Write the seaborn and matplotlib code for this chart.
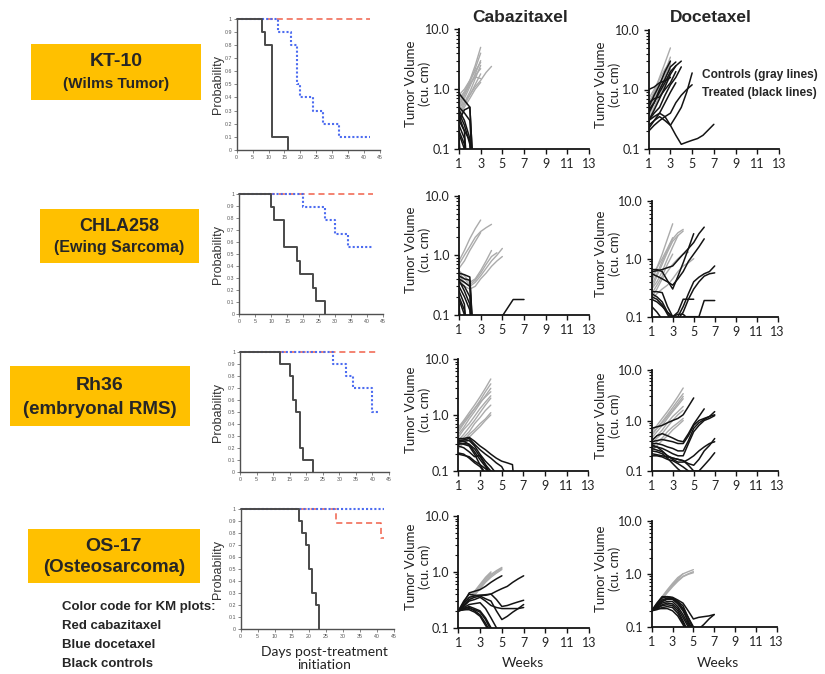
"""Cabazitaxel vs docetaxel: KM curves and tumor volume panels for four xenograft models."""

import numpy as np
import pandas as pd
import matplotlib
matplotlib.use("Agg")
import matplotlib.pyplot as plt
import seaborn as sns
from matplotlib.patches import Rectangle
from matplotlib.ticker import LogLocator, NullFormatter, FixedLocator

W, H = 825, 674

# ---------------- Kaplan-Meier data (days, probability) ----------------
kt10_ctrl_t = [0, 8, 9, 11, 16]
kt10_ctrl_p = [1, 0.9, 0.8, 0.1, 0]
kt10_cab_t = [0, 42]
kt10_cab_p = [1, 1]
kt10_doc_t = [0, 13, 17, 19, 20, 24, 27, 32, 42]
kt10_doc_p = [1, 0.9, 0.8, 0.5, 0.4, 0.3, 0.2, 0.1, 0.1]

chla_ctrl_t = [0, 10, 11, 14, 18, 19, 23, 24, 27]
chla_ctrl_p = [1, 0.889, 0.778, 0.556, 0.444, 0.333, 0.222, 0.111, 0]
chla_cab_t = [0, 42]
chla_cab_p = [1, 1]
chla_doc_t = [0, 20, 27, 30, 34, 42]
chla_doc_p = [1, 0.889, 0.778, 0.667, 0.556, 0.556]

rh36_ctrl_t = [0, 12, 15, 16, 17, 18, 19, 22]
rh36_ctrl_p = [1, 0.9, 0.8, 0.6, 0.5, 0.2, 0.1, 0]
rh36_cab_t = [0, 42]
rh36_cab_p = [1, 1]
rh36_doc_t = [0, 28, 32, 34, 40, 42]
rh36_doc_p = [1, 0.9, 0.8, 0.7, 0.5, 0.5]

os17_ctrl_t = [0, 17, 18, 19, 20, 21, 22, 23]
os17_ctrl_p = [1, 0.9, 0.8, 0.7, 0.5, 0.3, 0.2, 0]
os17_cab_t = [0, 28, 41, 42]
os17_cab_p = [1, 0.889, 0.76, 0.76]
os17_doc_t = [0, 42]
os17_doc_p = [1, 1]

# ---------------- tumor volume data (cu. cm), one list per mouse ----------------
tv_weeks = [1, 1.5, 2, 2.5, 3, 3.5, 4, 4.5, 5, 5.5, 6, 6.5, 7]

kt10_cab_ctrl = [
    [0.6, 0.9, 1.4, 2.5, 5.0], [0.5, 0.8, 1.3, 2.2, 4.0], [0.45, 0.7, 1.1, 1.8, 3.0],
    [0.4, 0.6, 0.9, 1.5, 2.5], [0.55, 0.8, 1.2, 1.7, 2.2], [0.35, 0.55, 0.8, 1.2, 1.8],
    [0.7, 0.9, 1.2, 1.6, 1.5], [0.3, 0.5, 0.7, 1.0, 1.3], [0.5, 0.6, 0.8, 1.1, 1.4, 1.9, 2.4],
    [0.8, 1.0, 1.4, 2.0, 2.8],
]
kt10_cab_trt = [
    [0.85, 0.65, 0.5, 0.01], [0.5, 0.4, 0.3, 0.01], [0.45, 0.3, 0.15, 0.01],
    [0.4, 0.25, 0.12, 0.01], [0.3, 0.2, 0.01], [0.25, 0.15, 0.01], [0.2, 0.12, 0.01],
    [0.18, 0.1, 0.01], [0.15, 0.01], [0.12, 0.01], [0.3, 0.45, 0.5, 0.01],
    [0.35, 0.2, 0.14, 0.01],
]
kt10_doc_ctrl = [
    [0.5, 0.9, 1.6, 2.8, 5.0], [0.4, 0.7, 1.2, 2.0, 3.5], [0.6, 0.9, 1.3, 1.9, 2.6],
    [0.35, 0.6, 1.0, 1.7, 2.8], [0.45, 0.7, 1.0, 1.4, 1.9], [0.3, 0.5, 0.8, 1.2, 1.6],
    [0.55, 0.8, 1.1, 1.6, 2.2], [0.7, 1.0, 1.5, 2.2, 3.0],
]
kt10_doc_trt = [
    [0.5, 0.8, 1.2, 2.0, 3.0], [0.4, 0.6, 1.0, 1.5, 2.4, 2.9],
    [0.3, 0.45, 0.7, 1.1, 1.8, 2.5, 3.0],
    [0.25, 0.3, 0.35, 0.3, 0.25, 0.35, 0.5, 0.9, 1.9],
    [0.2, 0.25, 0.3, 0.35, 0.4, 0.6, 0.8, 1.0, 1.2],
    [0.6, 0.7, 0.75, 1.0, 1.3, 2.0],
    [0.3, 0.35, 0.4, 0.35, 0.25, 0.17, 0.12, 0.13, 0.14, 0.15, 0.17, 0.21, 0.26],
    [0.22, 0.3, 0.4, 0.6, 0.9, 1.3], [0.3, 0.4, 0.5, 0.8, 1.2, 1.6, 2.4],
    [1.0, 1.1, 1.3, 1.4, 1.6], [0.45, 0.6, 0.9, 1.3, 2.0, 2.5],
]

chla_cab_ctrl = [
    [0.8, 1.2, 1.9, 2.8, 3.9], [0.7, 1.0, 1.4, 2.0, 2.5, 2.9, 3.3], [0.6, 0.8, 1.2, 1.7, 2.4],
    [0.55, 0.45, 0.35, 0.4, 0.55, 0.8, 1.2],
    [0.45, 0.35, 0.3, 0.35, 0.45, 0.6, 0.8, 1.0, 1.3],
    [0.4, 0.3, 0.27, 0.3, 0.4, 0.5, 0.65, 0.8, 0.95],
    [0.5, 0.4, 0.32, 0.38, 0.5, 0.7, 0.95, 1.1],
]
chla_cab_trt = [
    [0.5, 0.47, 0.43, 0.01], [0.45, 0.4, 0.38, 0.01], [0.4, 0.35, 0.3, 0.01],
    [0.35, 0.3, 0.2, 0.01], [0.3, 0.2, 0.12, 0.01], [0.25, 0.15, 0.01], [0.2, 0.12, 0.01],
    [0.18, 0.1, 0.01], [0.15, 0.01], [0.12, 0.01], [0.38, 0.25, 0.15, 0.01],
    [None, None, None, None, None, None, None, None, 0.095, None, 0.18, None, 0.18],
]
chla_doc_ctrl = [
    [0.4, 0.7, 1.2, 2.2, 4.0], [0.35, 0.55, 0.9, 1.4, 2.2, 2.8, 3.2],
    [0.3, 0.5, 0.8, 1.3, 2.0, 2.5, 3.0], [0.25, 0.35, 0.5, 0.8, 1.2],
    [0.22, 0.3, 0.45, 0.6, 0.8, 1.0, 1.2, 1.3],
    [0.2, 0.25, 0.3, 0.35, 0.45, 0.6, 0.75, 0.85, 1.0],
    [0.3, 0.4, 0.6, 1.0, 1.6, 2.5], [0.5, 0.7, 1.0, 1.5, 2.3],
]
chla_doc_trt = [
    [0.6, 0.62, 0.65, 0.7, 0.75, 0.95, 1.2, 1.5, 1.9, 2.7, 3.5],
    [0.65, 0.65, 0.6, 0.42, 0.3, 0.5, 0.85, 1.5, 2.7],
    [0.55, 0.5, 0.45, 0.4, 0.35, 0.45, 0.6, 0.9, 1.2, 1.6, 2.2],
    [0.27, 0.27, 0.26, 0.15, 0.1, 0.12, 0.2, 0.2, 0.2],
    [0.2, 0.18, 0.15, 0.12, 0.09, 0.1, 0.15, 0.25, 0.4, 0.48, 0.55, 0.6, 0.75],
    [0.22, 0.2, 0.16, 0.11, 0.08, 0.09, 0.12, 0.2, 0.3, 0.4, 0.5, 0.55, 0.57],
    [0.15, 0.12, 0.09, 0.07, 0.06, 0.07, 0.1, 0.1, 0.1, 0.1, 0.19, 0.19, 0.19],
    [0.25, 0.22, 0.18, 0.12, 0.1, 0.11, 0.11, 0.09, 0.07],
]

rh36_cab_ctrl = [
    [0.6, 0.8, 1.1, 1.5, 2.1, 3.0, 4.4], [0.5, 0.7, 0.95, 1.3, 1.8, 2.6, 3.6],
    [0.45, 0.6, 0.85, 1.15, 1.6, 2.2, 3.0], [0.4, 0.55, 0.7, 0.95, 1.3, 1.7, 2.2],
    [0.35, 0.45, 0.6, 0.8, 1.1, 1.5, 2.0], [0.3, 0.4, 0.5, 0.7, 0.9, 1.2, 1.5],
    [0.28, 0.35, 0.45, 0.55, 0.7, 0.85, 1.1], [0.25, 0.32, 0.4, 0.5, 0.62, 0.8, 1.0],
    [0.55, 0.75, 1.0, 1.3, 1.7, 2.1, 2.6],
]
rh36_cab_trt = [
    [0.38, 0.38, 0.4, 0.34, 0.28, 0.24, 0.2, 0.17, 0.15, 0.14, 0.13, 0.01],
    [0.35, 0.36, 0.38, 0.3, 0.24, 0.2, 0.17, 0.14, 0.12, 0.08],
    [0.33, 0.34, 0.35, 0.28, 0.2, 0.15, 0.12, 0.09],
    [0.3, 0.31, 0.3, 0.22, 0.16, 0.12, 0.09], [0.32, 0.3, 0.28, 0.2, 0.13, 0.09],
    [0.2, 0.19, 0.18, 0.15, 0.13, 0.11, 0.09], [0.21, 0.2, 0.17, 0.14, 0.12, 0.09],
    [0.28, 0.26, 0.22, 0.18, 0.19, 0.13, 0.08],
    [0.36, 0.34, 0.3, 0.25, 0.18, 0.13, 0.1, 0.08],
]
rh36_doc_ctrl = [
    [0.6, 0.8, 1.1, 1.5, 2.1, 3.0, 4.4], [0.5, 0.7, 0.95, 1.3, 1.8, 2.5, 3.4],
    [0.45, 0.6, 0.8, 1.1, 1.5, 2.0, 2.7], [0.4, 0.5, 0.65, 0.9, 1.2, 1.5, 1.9],
    [0.35, 0.45, 0.55, 0.75, 1.0, 1.3, 1.6], [0.3, 0.38, 0.45, 0.6, 0.75, 0.9, 1.1],
    [0.25, 0.32, 0.4, 0.5, 0.65, 0.8, 1.0], [0.55, 0.7, 0.9, 1.2, 1.6, 2.2, 3.0],
]
rh36_doc_trt = [
    [0.7, 0.75, 0.8, 0.9, 1.0, 1.1, 1.3, 1.9, 2.8],
    [0.4, 0.5, 0.55, 0.5, 0.45, 0.4, 0.38, 0.55, 0.85, 1.2, 1.7],
    [0.38, 0.4, 0.42, 0.4, 0.38, 0.35, 0.35, 0.5, 0.8, 1.0, 1.1, 1.2, 1.3],
    [0.35, 0.35, 0.33, 0.3, 0.28, 0.25, 0.25, 0.4, 0.7, 0.9, 1.05, 1.2, 1.5],
    [0.3, 0.3, 0.28, 0.25, 0.22, 0.2, 0.2, 0.35, 0.6, 0.8, 1.0, 1.1, 1.25],
    [0.28, 0.26, 0.24, 0.2, 0.18, 0.17, 0.16, 0.14, 0.13, 0.17, 0.25, 0.32, 0.44],
    [0.22, 0.21, 0.2, 0.19, 0.18, 0.17, 0.16, 0.13, 0.1, 0.1, 0.13, 0.17, 0.23],
    [0.2, 0.2, 0.19, 0.17, 0.16, 0.14, 0.12, 0.1, 0.08],
    [0.33, 0.3, 0.25, 0.2, 0.17, 0.15, 0.15, 0.17, 0.2, 0.25, 0.3, 0.35, 0.38],
    [0.25, 0.24, 0.22, 0.18, 0.14, 0.11, 0.09],
]

os17_cab_ctrl = [
    [0.2, 0.27, 0.35, 0.45, 0.6, 0.8, 1.0],
    [0.2, 0.26, 0.33, 0.42, 0.55, 0.72, 0.9, 1.05, 1.2],
    [0.2, 0.25, 0.32, 0.4, 0.52, 0.68, 0.85, 1.0, 1.15],
    [0.2, 0.26, 0.34, 0.44, 0.58, 0.75, 0.95],
    [0.2, 0.25, 0.3, 0.38, 0.5, 0.65, 0.8, 0.95, 1.1],
]
os17_cab_trt = [
    [0.2, 0.28, 0.42, 0.45, 0.48, 0.55, 0.65, 0.75, 0.85],
    [0.2, 0.3, 0.4, 0.38, 0.38, 0.38, 0.4, 0.45, 0.5, 0.55, 0.65, 0.75, 0.85],
    [0.2, 0.27, 0.35, 0.37, 0.38, 0.39, 0.4, 0.32, 0.24, 0.25, 0.27, 0.29, 0.31],
    [0.2, 0.25, 0.32, 0.35, 0.37, 0.33, 0.3, 0.2, 0.14, 0.16, 0.19, 0.22, 0.26],
    [0.2, 0.24, 0.3, 0.32, 0.35, 0.3, 0.25, 0.23, 0.22, 0.22, 0.22, 0.22, 0.23],
    [0.2, 0.22, 0.24, 0.22, 0.2, 0.15, 0.1, 0.07],
    [0.2, 0.21, 0.22, 0.21, 0.19, 0.14, 0.09],
    [0.2, 0.22, 0.23, 0.2, 0.17, 0.12, 0.08],
    [0.2, 0.21, 0.21, 0.19, 0.16, 0.11, 0.08],
    [0.2, 0.23, 0.26, 0.27, 0.28, 0.22, 0.15, 0.1, 0.07],
]
os17_doc_ctrl = [
    [0.2, 0.27, 0.36, 0.48, 0.62, 0.8, 1.0, 1.1, 1.2],
    [0.2, 0.26, 0.35, 0.46, 0.6, 0.75, 0.9, 1.0, 1.1],
    [0.2, 0.27, 0.37, 0.5, 0.66, 0.85, 1.0],
    [0.2, 0.25, 0.33, 0.44, 0.57, 0.72, 0.88, 0.98, 1.05],
]
os17_doc_trt = [
    [0.2, 0.27, 0.35, 0.37, 0.36, 0.32, 0.28, 0.2, 0.14, 0.15, 0.155, 0.16, 0.17],
    [0.2, 0.28, 0.37, 0.37, 0.35, 0.3, 0.25, 0.15, 0.1, 0.09, 0.11, 0.14, 0.17],
    [0.2, 0.25, 0.3, 0.33, 0.33, 0.27, 0.2, 0.13, 0.08],
    [0.2, 0.24, 0.28, 0.3, 0.3, 0.24, 0.17, 0.11, 0.07],
    [0.2, 0.23, 0.26, 0.28, 0.27, 0.22, 0.15, 0.1, 0.07],
    [0.2, 0.22, 0.25, 0.26, 0.25, 0.2, 0.13, 0.08],
    [0.2, 0.21, 0.23, 0.24, 0.23, 0.18, 0.12, 0.08],
    [0.2, 0.22, 0.22, 0.22, 0.2, 0.16, 0.11, 0.07],
    [0.2, 0.26, 0.32, 0.35, 0.34, 0.28, 0.22, 0.15, 0.09],
    [0.2, 0.24, 0.3, 0.34, 0.35, 0.3, 0.22, 0.12, 0.08],
]

models = ["KT-10", "CHLA258", "Rh36", "OS-17"]
model_types = ["(Wilms Tumor)", "(Ewing Sarcoma)", "(embryonal RMS)", "(Osteosarcoma)"]
legend_lines = ["Color code for KM plots:", "Red cabazitaxel", "Blue docetaxel", "Black controls"]

RED, BLUE, DARK = "#f0604a", "#4d6cf0", "#4a4a4a"
GRAY, BLACK = "#ababab", "#141414"
BOX = "#ffc000"

sns.set_theme(style="white")
plt.rcParams["font.family"] = ["Liberation Sans", "DejaVu Sans"]


def rect(x0, x1, y0, y1):
    return [x0 / W, 1 - y1 / H, (x1 - x0) / W, (y1 - y0) / H]


def ftext(x, y, s, **kw):
    fig.text(x / W, 1 - y / H, s, **kw)


def draw_km(ax, ctrl, cab, doc):
    sns.lineplot(x=cab[0], y=cab[1], ax=ax, color=RED, lw=1.1, ls=(0, (4, 2.5)),
                 drawstyle="steps-post", estimator=None, sort=False, clip_on=False)
    sns.lineplot(x=doc[0], y=doc[1], ax=ax, color=BLUE, lw=1.5, ls=(0, (1, 1)),
                 drawstyle="steps-post", estimator=None, sort=False, clip_on=False)
    sns.lineplot(x=ctrl[0], y=ctrl[1], ax=ax, color=DARK, lw=1.4,
                 drawstyle="steps-post", estimator=None, sort=False, clip_on=False)
    ax.set_xlim(0, 45)
    ax.set_ylim(0, 1)
    ax.set_xticks(range(0, 46, 5))
    ax.set_yticks(np.round(np.arange(0, 1.01, 0.1), 1))
    ax.set_yticklabels(["0"] + [f"{v:.1f}" for v in np.arange(0.1, 0.95, 0.1)] + ["1"])
    ax.tick_params(labelsize=3.8, colors="#555555", length=2, width=0.5, pad=1.5,
                   left=True, bottom=True)
    sns.despine(ax=ax)
    for s in ("left", "bottom"):
        ax.spines[s].set_color("#505050")
        ax.spines[s].set_linewidth(1.0)
    ax.set_xlabel("")
    ax.set_ylabel("")


def frame(lines):
    rows = []
    for i, vals in enumerate(lines):
        for w, v in zip(tv_weeks, vals):
            if v is not None:
                rows.append((i, w, v))
    return pd.DataFrame(rows, columns=["mouse", "week", "volume"])


def draw_tv(ax, ctrl, trt):
    ax.set_yscale("log")
    sns.lineplot(data=frame(ctrl), x="week", y="volume", units="mouse", estimator=None,
                 color=GRAY, lw=1.0, ax=ax, legend=False)
    sns.lineplot(data=frame(trt), x="week", y="volume", units="mouse", estimator=None,
                 color=BLACK, lw=1.1, ax=ax, legend=False)
    ax.set_xlim(1, 13)
    ax.set_ylim(0.1, 10)
    ax.set_xticks(range(1, 14, 2))
    ax.yaxis.set_major_locator(FixedLocator([0.1, 1, 10]))
    ax.set_yticklabels(["0.1", "1.0", "10.0"])
    ax.yaxis.set_minor_locator(LogLocator(base=10, subs=np.arange(2, 10)))
    ax.yaxis.set_minor_formatter(NullFormatter())
    ax.tick_params(which="major", labelsize=9, length=3.5, width=1.0, color=BLACK,
                   labelcolor="#222222", left=True, bottom=True, pad=3)
    ax.tick_params(which="minor", axis="y", length=2, width=0.8, color=BLACK, left=True)
    for lab in ax.get_xticklabels() + ax.get_yticklabels():
        lab.set_family(["Lato", "DejaVu Sans"])
    sns.despine(ax=ax)
    for s in ("left", "bottom"):
        ax.spines[s].set_color(BLACK)
        ax.spines[s].set_linewidth(1.3)
    ax.set_xlabel("")
    ax.set_ylabel("")


fig = plt.figure(figsize=(W / 100, H / 100), dpi=100)

km_boxes = [(236.7, 380, 18.7, 150), (239.3, 382.7, 193.7, 314.3),
            (240, 389, 352.3, 471.7), (240.7, 394.3, 509.3, 629.3)]
km_sets = [
    ((kt10_ctrl_t, kt10_ctrl_p), (kt10_cab_t, kt10_cab_p), (kt10_doc_t, kt10_doc_p)),
    ((chla_ctrl_t, chla_ctrl_p), (chla_cab_t, chla_cab_p), (chla_doc_t, chla_doc_p)),
    ((rh36_ctrl_t, rh36_ctrl_p), (rh36_cab_t, rh36_cab_p), (rh36_doc_t, rh36_doc_p)),
    ((os17_ctrl_t, os17_ctrl_p), (os17_cab_t, os17_cab_p), (os17_doc_t, os17_doc_p)),
]
for (x0, x1, y0, y1), (ctrl, cab, doc) in zip(km_boxes, km_sets):
    ax = fig.add_axes(rect(x0, x1, y0, y1))
    draw_km(ax, ctrl, cab, doc)
    ftext(218, (y0 + y1) / 2, "Probability", rotation=90, ha="center", va="center",
          fontsize=9, color="#333333")

tv_boxes = [
    [(459, 589, 29.3, 149), (648.7, 779, 30, 149)],
    [(459, 589, 195.7, 314.7), (651.7, 777.7, 200.7, 316.7)],
    [(458.3, 588.3, 359, 471), (651.7, 777.7, 370, 471)],
    [(458.3, 589, 516, 627.7), (651.7, 776.7, 521, 626.7)],
]
tv_sets = [
    [(kt10_cab_ctrl, kt10_cab_trt), (kt10_doc_ctrl, kt10_doc_trt)],
    [(chla_cab_ctrl, chla_cab_trt), (chla_doc_ctrl, chla_doc_trt)],
    [(rh36_cab_ctrl, rh36_cab_trt), (rh36_doc_ctrl, rh36_doc_trt)],
    [(os17_cab_ctrl, os17_cab_trt), (os17_doc_ctrl, os17_doc_trt)],
]
label_x = [418, 608]
for r in range(4):
    for c in range(2):
        x0, x1, y0, y1 = tv_boxes[r][c]
        ax = fig.add_axes(rect(x0, x1, y0, y1))
        draw_tv(ax, *tv_sets[r][c])
        ftext(label_x[c], (y0 + y1) / 2 - 5, "Tumor Volume\n(cu. cm)", rotation=90,
              ha="center", va="center", fontsize=9.5, color="#222222",
              family=["Lato", "DejaVu Sans"], linespacing=1.15)

ftext(520, 17, "Cabazitaxel", ha="center", va="center", fontsize=12.5, fontweight="bold")
ftext(711, 17, "Docetaxel", ha="center", va="center", fontsize=12.5, fontweight="bold")
ftext(702, 75, "Controls (gray lines)", ha="left", va="center", fontsize=8.6, fontweight="bold")
ftext(702, 93, "Treated (black lines)", ha="left", va="center", fontsize=8.6, fontweight="bold")
for cx in (523, 718):
    ftext(cx, 663, "Weeks", ha="center", va="center", fontsize=10, color="#222222",
          family=["Lato", "DejaVu Sans"])
ftext(324, 646, "Days post-treatment\ninitiation", ha="center", va="top", fontsize=10,
      color="#222222", family=["Lato", "DejaVu Sans"], linespacing=1.1)

# model name boxes
box_px = [(31, 201, 44, 100), (40, 199, 209, 263), (10, 190, 366, 426), (28, 200, 529, 583)]
name_sizes = [(14, 11), (13, 11.5), (14, 13.5), (14, 13.5)]
for (x0, x1, y0, y1), name, kind, (s1, s2) in zip(box_px, models, model_types, name_sizes):
    fig.add_artist(Rectangle((x0 / W, 1 - y1 / H), (x1 - x0) / W, (y1 - y0) / H,
                             transform=fig.transFigure, facecolor=BOX, edgecolor="none"))
    cx = (x0 + x1) / 2
    h = y1 - y0
    ftext(cx, y0 + 0.32 * h, name, ha="center", va="center", fontsize=s1, fontweight="bold")
    ftext(cx, y0 + 0.72 * h, kind, ha="center", va="center", fontsize=s2, fontweight="bold")

for i, line in enumerate(legend_lines):
    ftext(62, 607 + 19 * i, line, ha="left", va="center", fontsize=9.5, fontweight="bold")

fig.savefig("out.png", dpi=100, facecolor="white")
